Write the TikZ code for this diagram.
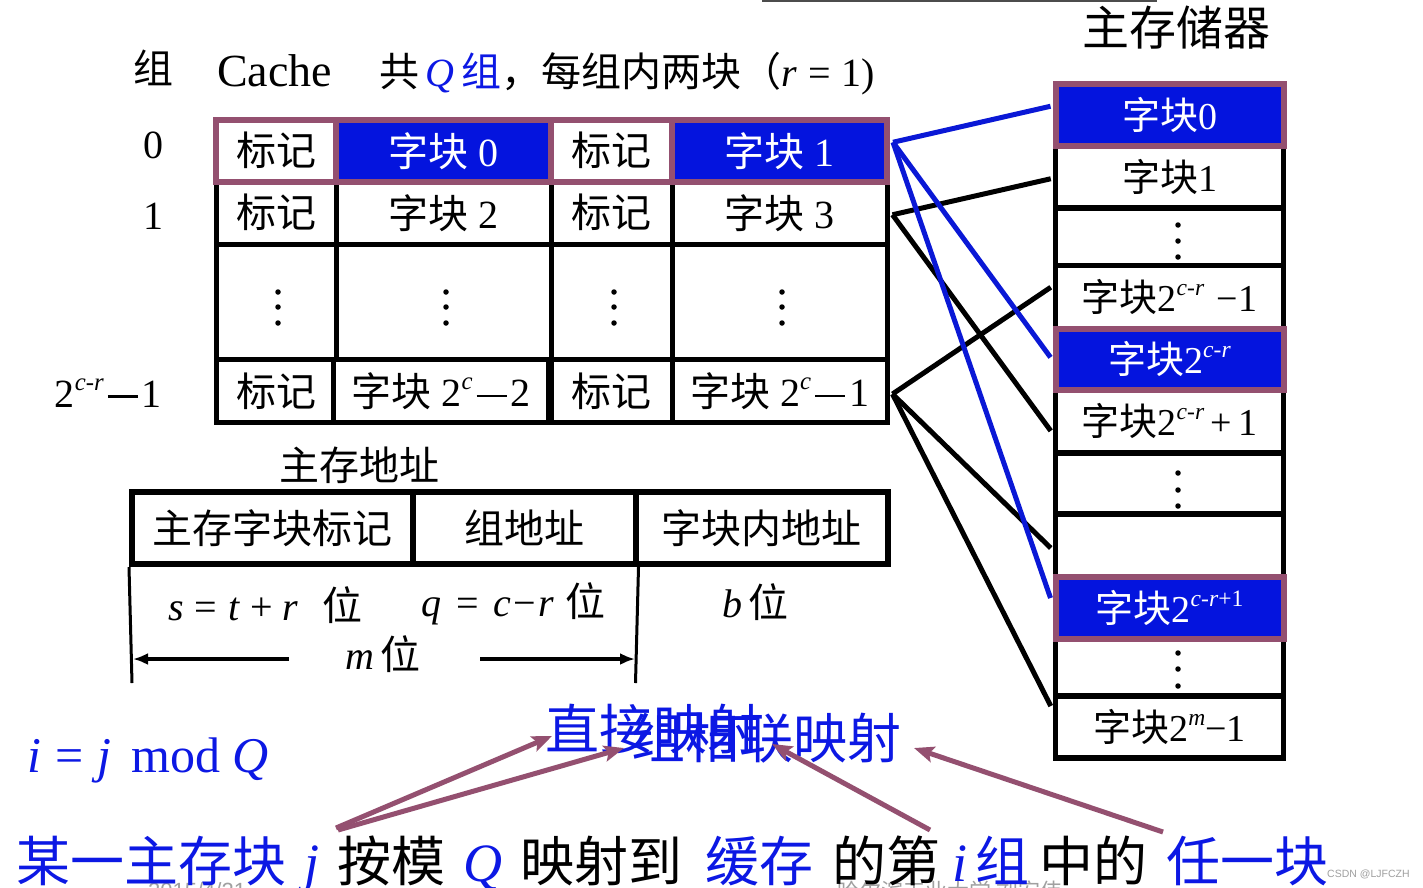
\documentclass[tikz,border=0pt]{standalone}
\usepackage{fontspec}
\usepackage{graphicx}
\setmainfont{Liberation Serif}
\newfontfamily\cjk{Noto Sans CJK SC}
\newfontfamily\sansf{Liberation Sans}
\usetikzlibrary{arrows.meta}
\definecolor{pur}{RGB}{148,80,112}
\definecolor{bfill}{RGB}{4,20,222}
\definecolor{btxt}{RGB}{12,24,228}
\definecolor{bline}{RGB}{10,24,214}
\definecolor{wm}{RGB}{160,160,160}
\newcommand{\zh}[1]{{\cjk #1}}
\newcommand{\sps}[1]{\raisebox{0.42em}{\scalebox{0.62}{#1}}}
\newcommand{\lmn}{\hspace{0.1em}\rule[0.24em]{0.75em}{0.055em}\hspace{0.1em}}
\begin{document}
\begin{tikzpicture}[x=1pt,y=-1pt,
  cell/.style={draw=black, line width=5pt, inner sep=0pt, fill=white},
  mcell/.style={draw=black, line width=5.5pt, inner sep=0pt, fill=white, minimum width=228pt},
  pcell/.style={draw=pur, line width=6pt, inner sep=0pt, fill=bfill, text=white},
  pwcell/.style={draw=pur, line width=6pt, inner sep=0pt, fill=white},
  acell/.style={draw=black, line width=6pt, inner sep=0pt, minimum height=72pt},
  f40/.style={font=\fontsize{40}{44}\selectfont},
  f38/.style={font=\fontsize{38}{42}\selectfont},
  f47/.style={font=\fontsize{47}{50}\selectfont},
  f54/.style={font=\fontsize{54}{58}\selectfont},
  txt/.style={inner sep=0pt, anchor=base west},
  bl/.style={line width=5pt, black},
  blu/.style={line width=5pt, bline},
  parr/.style={line width=5pt, pur, -{Stealth[length=20pt,width=16pt,inset=4pt]}},
  marr/.style={line width=4.5pt, black, -{Latex[length=15pt,width=12pt]}},
  dot/.style={circle, fill=black, inner sep=0pt, minimum size=5.5pt}
]
\useasboundingbox (0,0) rectangle (1423,887);
\clip (0,0) rectangle (1423,887);
\fill[white] (0,0) rectangle (1423,887);

% top thin line
\draw[line width=2pt, black!70] (762,1) -- (1157,1);

% footer fragments (watermarks, clipped)
\node[txt, wm, font=\sansf\fontsize{22}{24}\selectfont] (wdate) at (148,898) {2015/4/21};
\node[txt, wm, font=\fontsize{22}{24}\selectfont] (wschool) at (837,899) {\zh{哈尔滨工业大学 刘宏伟}};
\node[txt, wm, font=\sansf\fontsize{10.5}{12}\selectfont] (csdn) at (1327,877) {CSDN @LJFCZH};

% header
\node[txt, f40] (hzu) at (133,83) {\zh{组}};
\node[txt, font=\fontsize{46}{50}\selectfont] (hcache) at (217,86) {Cache};
\node[txt, f40] (hinfo) at (379,86) {\zh{共}\,{\color{btxt}\textit{Q}\,\zh{组}}\zh{，每组内两块（}\textit{r}\hspace{11pt}=\hspace{11pt}1)};
\node[f47, inner sep=0pt] (mtitle) at (1176,28) {\zh{主存储器}};

% row labels
\node[f40, inner sep=0pt] (l0) at (153,145) {0};
\node[f40, inner sep=0pt] (l1) at (153,216) {1};
\node[f40, inner sep=0pt, anchor=east] (l3) at (162,393) {2\sps{\textit{c}-\textit{r}}\lmn 1};

% ---------- cache table ----------
% row 1
\node[cell,f40,minimum width=120pt,minimum height=62.5pt] (t1a) at (276,212.75) {\zh{标记}};
\node[cell,f40,minimum width=215pt,minimum height=62.5pt] (b1a) at (443.5,212.75) {\zh{字块} 2};
\node[cell,f40,minimum width=121pt,minimum height=62.5pt] (t1b) at (611.5,212.75) {\zh{标记}};
\node[cell,f40,minimum width=215pt,minimum height=62.5pt] (b1b) at (779.5,212.75) {\zh{字块} 3};
% dots row
\node[cell,minimum width=120pt,minimum height=115.5pt] (t2a) at (276,301.75) {};
\node[cell,minimum width=215pt,minimum height=115.5pt] (b2a) at (443.5,301.75) {};
\node[cell,minimum width=121pt,minimum height=115.5pt] (t2b) at (611.5,301.75) {};
\node[cell,minimum width=215pt,minimum height=115.5pt] (b2b) at (779.5,301.75) {};
\foreach \x/\n in {278/a,446/b,614/c,782/d}{
  \node[dot] (cd1\n) at (\x,292) {};
  \node[dot] (cd2\n) at (\x,307) {};
  \node[dot] (cd3\n) at (\x,323) {};
}
% last row
\node[cell,f40,minimum width=120pt,minimum height=63pt] (t3a) at (276,391) {\zh{标记}};
\node[cell,f40,minimum width=215pt,minimum height=63pt] (b3a) at (441,391) {\zh{字块} 2\sps{\textit{c}}\lmn 2};
\node[cell,f40,minimum width=121pt,minimum height=63pt] (t3b) at (611.5,391) {\zh{标记}};
\node[cell,f40,minimum width=215pt,minimum height=63pt] (b3b) at (779.5,391) {\zh{字块} 2\sps{\textit{c}}\lmn 1};
% row 0 (highlighted)
\node[pwcell,f40,minimum width=120pt,minimum height=61.5pt] (t0a) at (276,150.75) {\zh{标记}};
\node[pcell,f40,minimum width=215pt,minimum height=61.5pt] (b0a) at (443.5,150.75) {\zh{字块} 0};
\node[pwcell,f40,minimum width=121pt,minimum height=61.5pt] (t0b) at (611.5,150.75) {\zh{标记}};
\node[pcell,f40,minimum width=215pt,minimum height=61.5pt] (b0b) at (779.5,150.75) {\zh{字块} 1};

% ---------- main memory ----------
\node[mcell,f38,minimum height=62.5pt] (m1) at (1169.5,176.75) {\zh{字块}1};
\node[mcell,minimum height=57.5pt] (md1) at (1169.5,236.75) {};
\node[mcell,f38,minimum height=63.5pt] (m2) at (1169.5,297.25) {\zh{字块}2\sps{\textit{c}-\textit{r}}\,\,−1};
\node[mcell,f38,minimum height=63.3pt] (m4) at (1169.5,421.35) {\zh{字块}2\sps{\textit{c}-\textit{r}}\,+\,1};
\node[mcell,minimum height=61pt] (md2) at (1169.5,483.5) {};
\node[mcell,minimum height=63pt] (m5) at (1169.5,545.5) {};
\node[mcell,minimum height=57pt] (md3) at (1169.5,667.5) {};
\node[mcell,f38,minimum height=62pt] (m7) at (1169.5,727) {\zh{字块}2\sps{\textit{m}}−1};
\foreach \y/\n in {225/a,241/b,257/c}{\node[dot] (md1\n) at (1178,\y) {};}
\foreach \y/\n in {473/a,490/b,506/c}{\node[dot] (md2\n) at (1178,\y) {};}
\foreach \y/\n in {653/a,669/b,686/c}{\node[dot] (md3\n) at (1178,\y) {};}
\node[pcell,f38,minimum width=228pt,minimum height=61.5pt] (m0) at (1169.5,114.75) {\zh{字块}0};
\node[pcell,f38,minimum width=228pt,minimum height=60.7pt] (m3) at (1169.5,359.35) {\zh{字块}2\sps{\textit{c}-\textit{r}}};
\node[pcell,f38,minimum width=228pt,minimum height=62pt] (m6) at (1169.5,608) {\zh{字块}2\sps{\textit{c}-\textit{r}+1}};

% ---------- connectors cache -> memory ----------
\coordinate (c0) at ([xshift=3pt,yshift=8.5pt]b0b.east);
\coordinate (c1) at ([xshift=3pt,yshift=-2pt]b1b.east);
\coordinate (c3) at ([xshift=3pt,yshift=-3pt]b3b.east);
\coordinate (e0) at ([xshift=-2pt,yshift=8.5pt]m0.west);
\coordinate (e1) at ([xshift=-2pt,yshift=-2pt]m1.west);
\coordinate (e2) at ([xshift=-2pt,yshift=10pt]m2.west);
\coordinate (e3) at ([xshift=-2pt,yshift=2pt]m3.west);
\coordinate (e4) at ([xshift=-2pt,yshift=-9.5pt]m4.west);
\coordinate (e5) at ([xshift=-2pt,yshift=-2.5pt]m5.west);
\coordinate (e6) at ([xshift=-2pt,yshift=10pt]m6.west);
\coordinate (e7) at ([xshift=-2pt,yshift=21pt]m7.west);
\draw[bl] (c1) -- (e1);
\draw[bl] (c1) -- (e4);
\draw[bl] (c3) -- (e2);
\draw[bl] (c3) -- (e5);
\draw[bl] (c3) -- (e7);
\draw[blu] (c0) -- (e0);
\draw[blu] (c0) -- (e3);
\draw[blu] (c0) -- (e6);

% ---------- main memory address ----------
\node[f40, inner sep=0pt] (addrt) at (359,465) {\zh{主存地址}};
\node[acell,f40,minimum width=280.5pt] (a1) at (272.25,528) {\zh{主存字块标记}};
\node[acell,f40,minimum width=223pt] (a2) at (524,528) {\zh{组地址}};
\node[acell,f40,minimum width=252.3pt] (a3) at (761.65,528) {\zh{字块内地址}};
\coordinate (v1b) at (132,683);
\coordinate (v2b) at (635.5,683);
\draw[line width=3pt] (a1.south west) -- (v1b);
\draw[line width=3pt] (a2.south east) -- (v2b);
\node[txt,f40] (sbits) at (168,620) {\textit{s}\hspace{11pt}=\hspace{11pt}\textit{t}\hspace{10pt}+\hspace{10pt}\textit{r}\hspace{24pt}\zh{位}};
\node[txt,f40] (qbits) at (421,616) {\textit{q}\hspace{15pt}=\hspace{15pt}\textit{c}\hspace{2pt}−\hspace{2pt}\textit{r}\hspace{12pt}\zh{位}};
\node[txt,f40] (bbits) at (722,617) {\textit{b}\hspace{6pt}\zh{位}};
\node[txt,f40] (mbits) at (345,669) {\textit{m}\hspace{6pt}\zh{位}};
\coordinate (ml) at (289,659);
\coordinate (mr) at (480,659);
\coordinate (mlt) at (133,659);
\coordinate (mrt) at (635,659);
\draw[marr] (ml) -- (mlt);
\draw[marr] (mr) -- (mrt);

% ---------- bottom formulas ----------
\node[txt, btxt, font=\fontsize{50}{54}\selectfont] (formula) at (27,772) {\textit{i}\hspace{14pt}=\hspace{14pt}\textit{j}\hspace{20pt}mod\hspace{12pt}\textit{Q}};
\node[txt, btxt, f54] (zhijie) at (545,749) {\zh{直接映射}};
\node[txt, btxt, f54] (zuxl) at (631,758) {\zh{组相联映射}};

\node[txt, btxt, f54] (w1) at (16,881) {\zh{某一主存块}};
\node[txt, btxt, f54] (w2) at (304,881) {\textit{j}};
\node[txt, f54] (w3) at (337,881) {\zh{按模}};
\node[txt, btxt, f54] (w4) at (463,881) {\textit{Q}};
\node[txt, f54] (w5) at (520,881) {\zh{映射到}};
\node[txt, btxt, f54] (w6) at (705,881) {\zh{缓存}};
\node[txt, f54] (w7) at (832,881) {\zh{的第}};
\node[txt, btxt, f54] (w8) at (952,881) {\textit{i}};
\node[txt, btxt, f54] (w9) at (975,881) {\zh{组}};
\node[txt, f54] (w10) at (1039,881) {\zh{中的}};
\node[txt, btxt, f54] (w11) at (1166,881) {\zh{任一块}};

% purple arrows
\coordinate (s1) at (336,828);
\coordinate (s2) at (338,830);
\coordinate (s3) at (930,830);
\coordinate (s4) at (1163,832);
\coordinate (t1) at (552,736);
\coordinate (t2) at (624,748);
\coordinate (t3) at (772,744);
\coordinate (t4) at (914,748);
\draw[parr] (s1) -- (t1);
\draw[parr] (s2) -- (t2);
\draw[parr] (s3) -- (t3);
\draw[parr] (s4) -- (t4);
\end{tikzpicture}
\end{document}
